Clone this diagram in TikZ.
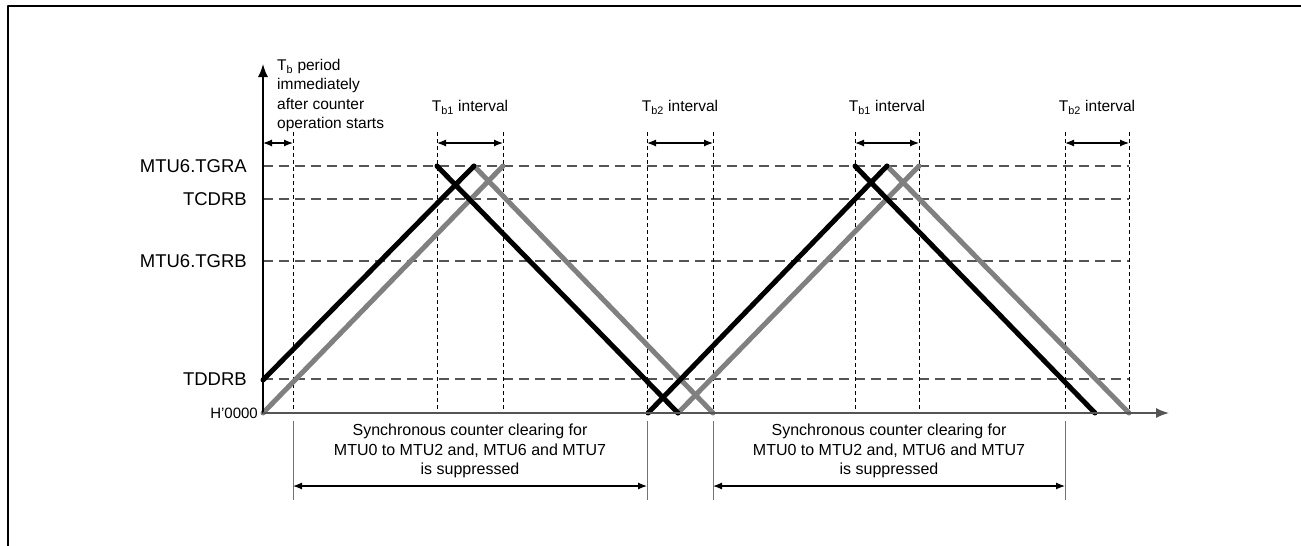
\documentclass[tikz,border=0pt]{standalone}
\usepackage{fontspec}
\setmainfont{Liberation Sans}
\usetikzlibrary{arrows.meta}
\begin{document}
\begin{tikzpicture}[x=1pt, y=-1pt, line join=round, line cap=round]
  \definecolor{cWave}{RGB}{128, 128, 128}
  \definecolor{cGrid}{RGB}{85, 85, 85}
  \tikzset{
    level/.style={cGrid, line width=1.4pt, dash pattern=on 10pt off 6pt, line cap=butt},
    guide/.style={black, line width=0.8pt, dash pattern=on 4pt off 3pt, line cap=butt},
    extent/.style={black!55, line width=1pt, line cap=butt},
    span/.style={black, line width=1.2pt, {Latex[length=9pt,width=7pt]}-{Latex[length=9pt,width=7pt]}},
    wave/.style={line width=5pt},
    reglabel/.style={font=\fontsize{18.5}{20}\selectfont, anchor=east, inner sep=0pt},
    note/.style={font=\fontsize{15.5}{19.4}\selectfont, inner sep=0pt},
  }
  \useasboundingbox (0,0) rectangle (1301,546);

  \draw[line width=2.5pt, line cap=butt] (8,546) -- (8,6) -- (1301,6);

  \coordinate (O) at (263,413);
  \coordinate (YT) at (263,64);
  \coordinate (XR) at (1169,413);

  % register levels
  \draw[level] (263,166) -- (1129,166);
  \draw[level] (263,199) -- (1129,199);
  \draw[level] (263,261) -- (1129,261);
  \draw[level] (263,379) -- (1129,379);

  \node[reglabel] (tgra) at (247,166) {MTU6.TGRA};
  \node[reglabel] (tcdrb) at (247,199) {TCDRB};
  \node[reglabel] (tgrb) at (247,261) {MTU6.TGRB};
  \node[reglabel] (tddrb) at (247,379) {TDDRB};
  \node[reglabel, font=\fontsize{15}{17}\selectfont] (zero) at (258,413) {H'0000};

  % interval guides
  \draw[guide] (293,132) -- (293,413);
  \draw[guide] (437,132) -- (437,413);
  \draw[guide] (503,132) -- (503,413);
  \draw[guide] (647,132) -- (647,413);
  \draw[guide] (713,132) -- (713,413);
  \draw[guide] (855,132) -- (855,413);
  \draw[guide] (919,132) -- (919,413);
  \draw[guide] (1065,132) -- (1065,413);
  \draw[guide] (1129,132) -- (1129,413);

  \draw[extent] (293,421) -- (293,500);
  \draw[extent] (647,421) -- (647,500);
  \draw[extent] (713,421) -- (713,500);
  \draw[extent] (1065,421) -- (1065,500);

  % counters
  \draw[wave, cWave] (263,413) -- (503,166);
  \draw[wave, cWave] (474,166) -- (713,413);
  \draw[wave, cWave] (678,413) -- (919,166);
  \draw[wave, cWave] (887,166) -- (1129,413);
  \draw[wave, black] (263,380) -- (474,166);
  \draw[wave, black] (437,166) -- (678,413);
  \draw[wave, black] (648,413) -- (887,166);
  \draw[wave, black] (855,166) -- (1095,413);

  \draw[line width=1.5pt, -{Latex[length=13pt,width=10pt]}] (O) -- (YT);
  \draw[cGrid, line width=1.5pt, -{Latex[length=13pt,width=10pt]}] (O) -- (XR);

  % spans
  \coordinate (s0a) at (263,143);
  \coordinate (s0b) at (293,143);
  \coordinate (s1a) at (437,143);
  \coordinate (s1b) at (503,143);
  \coordinate (s2a) at (647,143);
  \coordinate (s2b) at (713,143);
  \coordinate (s3a) at (855,143);
  \coordinate (s3b) at (919,143);
  \coordinate (s4a) at (1065,143);
  \coordinate (s4b) at (1129,143);
  \draw[span] (s0a) -- (s0b);
  \draw[span] (s1a) -- (s1b);
  \draw[span] (s2a) -- (s2b);
  \draw[span] (s3a) -- (s3b);
  \draw[span] (s4a) -- (s4b);

  \coordinate (c1a) at (293,486);
  \coordinate (c1b) at (647,486);
  \coordinate (c2a) at (713,486);
  \coordinate (c2b) at (1065,486);
  \draw[span] (c1a) -- (c1b);
  \draw[span] (c2a) -- (c2b);

  \node[note, anchor=north west, align=left] (tb) at (277,59)
    {T\textsubscript{b} period\\immediately\\after counter\\operation starts};
  \node[note] (tb1a) at (470,107) {T\textsubscript{b1} interval};
  \node[note] (tb2a) at (680,107) {T\textsubscript{b2} interval};
  \node[note] (tb1b) at (887,107) {T\textsubscript{b1} interval};
  \node[note] (tb2b) at (1097,107) {T\textsubscript{b2} interval};

  \node[note, align=center, font=\fontsize{16}{19.5}\selectfont] (sup1) at (470,451)
    {Synchronous counter clearing for\\MTU0 to MTU2 and, MTU6 and MTU7\\is suppressed};
  \node[note, align=center, font=\fontsize{16}{19.5}\selectfont] (sup2) at (889,451)
    {Synchronous counter clearing for\\MTU0 to MTU2 and, MTU6 and MTU7\\is suppressed};
\end{tikzpicture}
\end{document}
